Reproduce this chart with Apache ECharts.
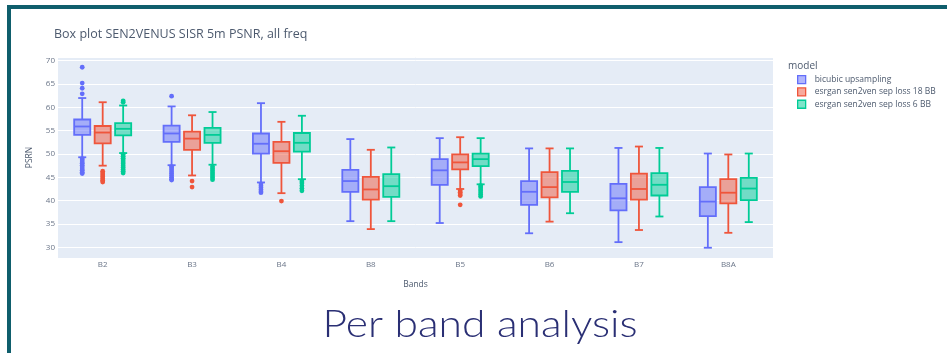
<!DOCTYPE html>
<html>
<head>
<meta charset="utf-8">
<style>
  html, body { margin: 0; padding: 0; background: #ffffff; }
  #chart { width: 947px; height: 353px; }
</style>
<script src="https://cdn.jsdelivr.net/npm/echarts@6/dist/echarts.min.js"></script>
</head>
<body>
<div id="chart"></div>
<script>
// Spectral bands on the x axis
const categories = ['B2', 'B3', 'B4', 'B8', 'B5', 'B6', 'B7', 'B8A'];

// Model names (legend entries)
const modelNames = ['bicubic upsampling', 'esrgan sen2ven sep loss 18 BB', 'esrgan sen2ven sep loss 6 BB'];

// Box statistics per band: [lower fence, Q1, median, Q3, upper fence]
const bicubicBoxes = [
  [49.3, 54.1, 55.9, 57.4, 62.0],
  [47.6, 52.6, 54.4, 56.1, 60.2],
  [43.9, 50.1, 52.2, 54.4, 60.9],
  [35.6, 41.9, 44.2, 46.6, 53.2],
  [35.2, 43.4, 46.5, 48.9, 53.4],
  [33.0, 39.1, 41.9, 44.2, 51.2],
  [31.1, 37.9, 40.5, 43.6, 51.3],
  [29.9, 36.7, 39.8, 42.9, 50.1]
];
const esrgan18Boxes = [
  [47.5, 52.3, 54.6, 56.0, 61.1],
  [45.4, 50.9, 53.3, 54.8, 58.3],
  [41.6, 48.1, 50.6, 52.6, 56.9],
  [33.9, 40.2, 42.4, 45.1, 50.9],
  [42.5, 46.7, 48.2, 49.9, 53.6],
  [35.5, 40.7, 42.9, 46.1, 51.2],
  [33.7, 40.2, 42.5, 45.8, 51.6],
  [33.1, 39.4, 41.7, 44.6, 49.9]
];
const esrgan6Boxes = [
  [50.2, 54.0, 55.4, 56.6, 60.4],
  [47.7, 52.4, 54.1, 55.6, 59.0],
  [44.6, 50.5, 52.4, 54.5, 58.2],
  [35.6, 40.8, 43.1, 45.7, 51.4],
  [43.5, 47.4, 48.9, 50.1, 53.4],
  [37.3, 41.9, 44.0, 46.4, 51.2],
  [36.6, 41.1, 43.4, 45.9, 51.3],
  [35.4, 40.1, 42.6, 44.9, 50.1]
];

// Outliers: [band index, PSNR]
const bicubicOutliers = [
  [0, 68.6], [0, 65.2], [0, 64.1], [0, 62.9],
  [0, 49.0], [0, 48.7], [0, 48.3], [0, 48.0], [0, 47.6], [0, 47.2], [0, 46.8], [0, 46.5], [0, 46.1], [0, 45.8],
  [1, 62.4],
  [1, 47.3], [1, 47.0], [1, 46.6], [1, 46.2], [1, 45.8], [1, 45.4], [1, 45.0], [1, 44.6], [1, 44.4],
  [2, 43.6], [2, 43.2], [2, 42.8], [2, 42.4], [2, 42.0], [2, 41.7]
];
const esrgan18Outliers = [
  [0, 46.3], [0, 45.9], [0, 45.5], [0, 45.1], [0, 44.7], [0, 44.3], [0, 44.0],
  [1, 44.2], [1, 42.9],
  [2, 39.9],
  [4, 42.1], [4, 41.8], [4, 41.4], [4, 41.1], [4, 39.1]
];
const esrgan6Outliers = [
  [0, 61.4], [0, 61.1],
  [0, 49.9], [0, 49.5], [0, 49.1], [0, 48.7], [0, 48.3], [0, 47.9], [0, 47.5], [0, 47.1], [0, 46.7], [0, 46.3], [0, 45.9],
  [1, 47.3], [1, 46.9], [1, 46.5], [1, 46.1], [1, 45.7], [1, 45.3], [1, 44.9], [1, 44.5],
  [2, 44.2], [2, 43.8], [2, 43.2], [2, 42.6], [2, 42.1],
  [4, 43.2], [4, 42.9], [4, 42.5], [4, 42.1], [4, 41.7], [4, 41.3], [4, 40.9]
];

const colors = ['#636efa', '#ef553b', '#00cc96'];
const fills = ['rgba(99,110,250,0.5)', 'rgba(239,85,59,0.5)', 'rgba(0,204,150,0.5)'];
const boxSets = [bicubicBoxes, esrgan18Boxes, esrgan6Boxes];
const outlierSets = [bicubicOutliers, esrgan18Outliers, esrgan6Outliers];

// Box layout as fractions of the category band width
const BOX_WIDTH = 0.18;
const OFFSETS = [-0.229, 0, 0.229];
const LINE_W = 1.8;

function boxRenderer(k) {
  return function (params, api) {
    const idx = api.value(0);
    const band = api.size([1, 0])[0];
    const cx = api.coord([idx, 50])[0] + OFFSETS[k] * band;
    const w = BOX_WIDTH * band;
    const y = v => api.coord([idx, v])[1];
    const low = y(api.value(1)), q1 = y(api.value(2)), med = y(api.value(3)),
          q3 = y(api.value(4)), high = y(api.value(5));
    const line = { stroke: colors[k], lineWidth: LINE_W };
    return {
      type: 'group',
      children: [
        { type: 'line', shape: { x1: cx, y1: high, x2: cx, y2: q3 }, style: line },
        { type: 'line', shape: { x1: cx, y1: q1, x2: cx, y2: low }, style: line },
        { type: 'line', shape: { x1: cx - w / 4, y1: high, x2: cx + w / 4, y2: high }, style: line },
        { type: 'line', shape: { x1: cx - w / 4, y1: low, x2: cx + w / 4, y2: low }, style: line },
        { type: 'rect', shape: { x: cx - w / 2, y: q3, width: w, height: q1 - q3 },
          style: { fill: fills[k], stroke: colors[k], lineWidth: LINE_W } },
        { type: 'line', shape: { x1: cx - w / 2, y1: med, x2: cx + w / 2, y2: med }, style: line }
      ]
    };
  };
}

function outlierRenderer(k) {
  return function (params, api) {
    const idx = api.value(0);
    const band = api.size([1, 0])[0];
    const p = api.coord([idx, api.value(1)]);
    return {
      type: 'circle',
      shape: { cx: p[0] + OFFSETS[k] * band, cy: p[1], r: 2.4 },
      style: { fill: colors[k] }
    };
  };
}

const series = [];
for (let k = 0; k < 3; k++) {
  series.push({
    name: modelNames[k],
    type: 'custom',
    renderItem: boxRenderer(k),
    itemStyle: { color: colors[k] },
    encode: { x: 0, y: [1, 2, 3, 4, 5] },
    data: boxSets[k].map((b, i) => [i].concat(b))
  });
  series.push({
    name: modelNames[k],
    type: 'custom',
    renderItem: outlierRenderer(k),
    itemStyle: { color: colors[k] },
    encode: { x: 0, y: 1 },
    data: outlierSets[k]
  });
}

const chart = echarts.init(document.getElementById('chart'), null, { renderer: 'canvas' });
chart.setOption({
  backgroundColor: '#ffffff',
  animation: false,
  textStyle: { fontFamily: '"Open Sans", "DejaVu Sans", sans-serif' },
  title: [
    {
      text: 'Box plot SEN2VENUS SISR 5m PSNR, all freq',
      left: 54, top: 28, padding: 0,
      textStyle: { fontSize: 12.5, fontWeight: 'normal', color: '#4d5a6e', fontFamily: '"Open Sans", sans-serif' }
    },
    {
      text: 'model',
      left: 788, top: 61, padding: 0,
      textStyle: { fontSize: 10, fontWeight: 'normal', color: '#4d5a6e', fontFamily: '"Open Sans", sans-serif' }
    }
  ],
  legend: {
    orient: 'vertical',
    left: 797, top: 75, padding: 0,
    itemWidth: 8, itemHeight: 8, itemGap: 3,
    icon: 'rect',
    textStyle: { fontSize: 8.5, color: '#4d5a6e', fontFamily: '"Open Sans", sans-serif', padding: [0, 0, 0, 4] },
    data: modelNames.map((n, k) => ({
      name: n,
      itemStyle: { color: fills[k], borderColor: colors[k], borderWidth: 1.3 }
    }))
  },
  grid: {
    left: 58, right: 174, top: 57, bottom: 95,
    show: true, backgroundColor: '#e5ecf6', borderWidth: 0
  },
  xAxis: {
    type: 'category',
    data: categories,
    boundaryGap: true,
    name: 'Bands',
    nameLocation: 'middle',
    nameGap: 22,
    nameTextStyle: { fontSize: 8.5, color: '#4d5a6e' },
    axisLine: { show: false },
    axisTick: { show: false },
    axisLabel: { fontSize: 8, color: '#6b7689', margin: 3 },
    splitLine: { show: false }
  },
  yAxis: {
    type: 'value',
    min: 27.7, max: 70.8,
    splitNumber: 8,
    name: 'PSRN',
    nameLocation: 'middle',
    nameRotate: 90,
    nameGap: 24,
    nameTextStyle: { fontSize: 8.5, color: '#4d5a6e' },
    axisLine: { show: false },
    axisTick: { show: false },
    axisLabel: { fontSize: 8, color: '#6b7689', margin: 3, showMinLabel: false, showMaxLabel: false },
    splitLine: { show: true, lineStyle: { color: '#ffffff', width: 1 } }
  },
  graphic: [
    {
      type: 'rect',
      shape: { x: 9, y: 7, width: 1200, height: 600 },
      style: { fill: null, stroke: '#0f5e6c', lineWidth: 4 },
      silent: true, z: 100
    },
    {
      type: 'text',
      x: 480, y: 325,
      scaleX: 1.15,
      style: {
        text: 'Per band analysis',
        fill: '#2a2f74',
        font: '300 37px Lato, "DejaVu Sans", sans-serif',
        align: 'center',
        verticalAlign: 'middle'
      },
      silent: true
    }
  ],
  series: series
});
</script>
</body>
</html>
